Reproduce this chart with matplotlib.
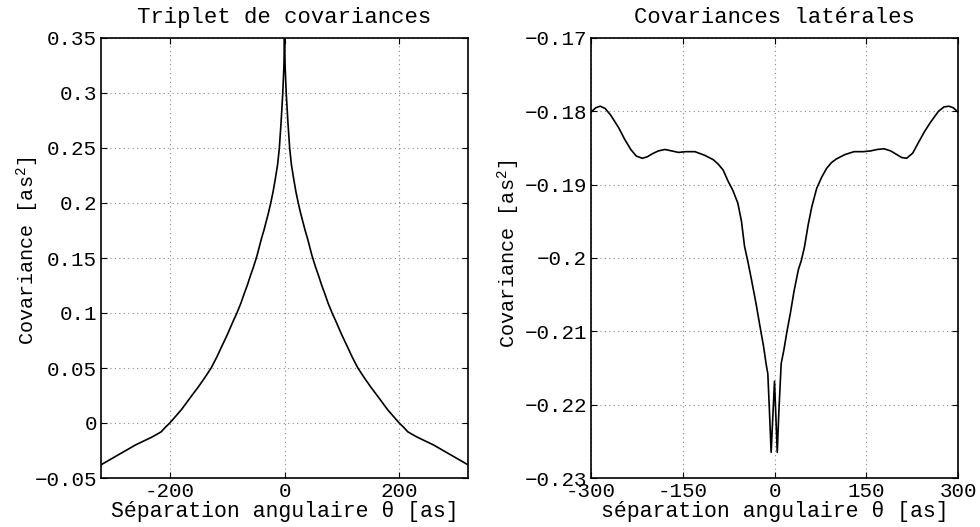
import numpy as np
import matplotlib
matplotlib.use("Agg")
import matplotlib.pyplot as plt

# Left panel: triplet of covariances
theta_left = [-320, -310, -300, -290, -280, -270, -260, -250, -240, -232, -225,
              -215, -208, -200, -190, -180, -163, -150, -138, -128, -118, -110,
              -100, -90, -83, -76, -70, -65, -60, -54, -48, -40, -36, -32, -28,
              -24, -20, -16, -12, -9, -6, -3, -1, 0,
              1, 3, 6, 9, 12, 16, 20, 24, 28, 32, 36, 40, 48, 54, 60, 65, 70,
              76, 83, 90, 100, 110, 118, 128, 138, 150, 163, 180, 190, 200, 208,
              215, 225, 232, 240, 250, 260, 270, 280, 290, 300, 310, 320]
cov_left = [-0.038, -0.035, -0.032, -0.029, -0.026, -0.023, -0.020, -0.0175,
            -0.015, -0.013, -0.011, -0.008, -0.004, 0.0, 0.006, 0.012, 0.024,
            0.033, 0.042, 0.050, 0.060, 0.069, 0.080, 0.092, 0.100, 0.109,
            0.118, 0.125, 0.133, 0.142, 0.152, 0.168, 0.175, 0.183, 0.191,
            0.200, 0.210, 0.222, 0.235, 0.250, 0.273, 0.300, 0.325, 0.350,
            0.325, 0.300, 0.273, 0.250, 0.235, 0.222, 0.210, 0.200, 0.191,
            0.183, 0.175, 0.168, 0.152, 0.142, 0.133, 0.125, 0.118, 0.109,
            0.100, 0.092, 0.080, 0.069, 0.060, 0.050, 0.042, 0.033, 0.024,
            0.012, 0.006, 0.0, -0.004, -0.008, -0.011, -0.013, -0.015, -0.0175,
            -0.020, -0.023, -0.026, -0.029, -0.032, -0.035, -0.038]

# Right panel: lateral covariances
theta_right = [-300, -292, -285, -277, -268, -255, -245, -235, -226, -216, -208,
               -200, -190, -179, -168, -157, -145, -130, -114, -100, -92, -84,
               -76, -68, -60, -54, -49, -43, -38, -30, -24, -18, -13.6, -10.9,
               -8.1, -5.5, 0, 4.5, 7, 10.9, 15.2, 20, 26, 32, 39, 44, 49, 55,
               61, 69, 77, 85, 93, 101, 115, 130, 145, 157, 168, 179, 190, 200,
               208, 216, 226, 235, 245, 255, 268, 277, 285, 292, 300]
cov_right = [-0.1801, -0.1795, -0.1793, -0.1796, -0.1805, -0.1822, -0.1838,
             -0.1852, -0.1861, -0.1864, -0.1862, -0.1858, -0.1854, -0.1852,
             -0.1854, -0.1856, -0.1855, -0.1855, -0.1860, -0.1866, -0.1872,
             -0.1880, -0.1895, -0.1908, -0.1925, -0.1950, -0.1984, -0.2007,
             -0.2028, -0.2063, -0.2092, -0.2120, -0.2145, -0.2158, -0.2212,
             -0.2265, -0.2168, -0.2265, -0.2212, -0.2144, -0.2126, -0.2102,
             -0.2075, -0.2045, -0.2016, -0.2003, -0.1985, -0.1955, -0.1930,
             -0.1905, -0.1890, -0.1878, -0.1870, -0.1865, -0.1859, -0.1855,
             -0.1855, -0.1854, -0.1852, -0.1851, -0.1854, -0.1859, -0.1863,
             -0.1864, -0.1857, -0.1843, -0.1828, -0.1815, -0.1800, -0.1794,
             -0.1793, -0.1795, -0.1801]

left_xticks = [-200, 0, 200]
left_yticks = [-0.05, 0, 0.05, 0.1, 0.15, 0.2, 0.25, 0.3, 0.35]
right_xticks = [-300, -150, 0, 150, 300]
right_yticks = [-0.23, -0.22, -0.21, -0.2, -0.19, -0.18, -0.17]

plt.rcParams['font.family'] = ['Liberation Mono', 'DejaVu Sans']
plt.rcParams['mathtext.fontset'] = 'custom'
plt.rcParams['mathtext.rm'] = 'Liberation Mono'
plt.rcParams['mathtext.it'] = 'Liberation Mono'
plt.rcParams['font.size'] = 15

fig = plt.figure(figsize=(9.8, 5.27), dpi=100)
ax1 = fig.add_axes([101/980, 49/527, 367/980, 440/527])
ax2 = fig.add_axes([591/980, 49/527, 367/980, 440/527])


def style(ax, xticks, yticks):
    ax.set_xticks(xticks)
    ax.set_yticks(yticks)
    ax.set_xticklabels(['%g' % t for t in xticks])
    ax.set_yticklabels([('%g' % t).replace('-', '\u2212') for t in yticks])
    ax.tick_params(direction='in', top=True, right=True, length=4,
                   width=0.8, labelsize=15, pad=3)
    ax.grid(True, color='#888888', linestyle=(0, (1, 3)), linewidth=0.8)
    for s in ax.spines.values():
        s.set_linewidth(1.2)


# left plot
ax1.plot(theta_left, cov_left, 'k-', lw=1.2)
ax1.set_xlim(-320, 320)
ax1.set_ylim(-0.05, 0.35)
style(ax1, left_xticks, left_yticks)
ax1.set_title("Triplet de covariances", fontsize=16, pad=11)
ax1.set_xlabel("Séparation angulaire θ [as]", fontsize=15.5, labelpad=0)
ax1.set_ylabel("Covariance [as$^{2}$]", fontsize=14.5)
ax1.yaxis.set_label_coords(-0.163, 0.516)

# right plot
ax2.plot(theta_right, cov_right, 'k-', lw=1.2)
ax2.set_xlim(-300, 300)
ax2.set_ylim(-0.23, -0.17)
style(ax2, right_xticks, right_yticks)
ax2.set_title("Covariances latérales", fontsize=16, pad=11)
ax2.set_xlabel("séparation angulaire θ [as]", fontsize=15.5, labelpad=0)
ax2.set_ylabel("Covariance [as$^{2}$]", fontsize=14.5)
ax2.yaxis.set_label_coords(-0.189, 0.51)

fig.savefig("out.png", dpi=100)
